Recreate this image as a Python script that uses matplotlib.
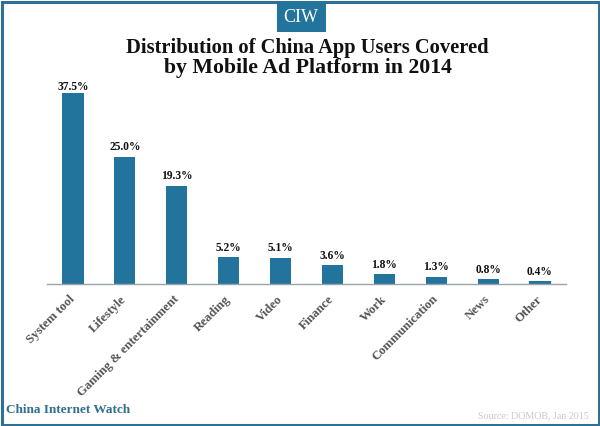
#!/usr/bin/env python3
"""China app users by mobile ad platform, 2014 - CIW bar chart."""
import matplotlib
matplotlib.use("Agg")
import matplotlib.pyplot as plt
from matplotlib.patches import Rectangle

categories = ["System tool", "Lifestyle", "Gaming & entertainment", "Reading", "Video",
              "Finance", "Work", "Communication", "News", "Other"]
values = [37.5, 25.0, 19.3, 5.2, 5.1, 3.6, 1.8, 1.3, 0.8, 0.4]

W, H = 600, 426
BLUE = "#22749c"
FRAME = "#2f7196"

plt.rcParams["font.family"] = ["Liberation Serif", "DejaVu Serif"]

fig = plt.figure(figsize=(W / 100, H / 100), dpi=100, facecolor="white")
ax = fig.add_axes([47 / W, 1 - 283.5 / H, 519 / W, 195 / H])

ax.bar(range(len(values)), values, width=0.41, color=BLUE, zorder=2)
for i, v in enumerate(values):
    # tallest bar's label sits closer to the bar, it runs into the title otherwise
    pad = 0 if i == 0 else 2.5
    ax.annotate(f"{v:.1f}%", (i, v), xytext=(0, pad), textcoords="offset points",
                ha="center", va="bottom", fontsize=8.3, fontweight="bold", color="#111111")

ax.set_xlim(-0.5, 9.5)
ax.set_ylim(0, 195 / 5.07)
ax.set_yticks([])
ax.set_xticks(range(len(categories)))
ax.set_xticklabels(categories, rotation=45, ha="right", va="center", rotation_mode="anchor",
                   fontsize=9.2, fontweight="bold", color="#555555")
ax.tick_params(axis="x", length=0, pad=10)
for spine in ("top", "right", "left"):
    ax.spines[spine].set_visible(False)
ax.spines["bottom"].set_color("#9aa3a8")
ax.spines["bottom"].set_linewidth(1)
ax.patch.set_alpha(0)

# outer frame and logo tab
fig.add_artist(Rectangle((1.5 / W, 1.5 / H), (W - 3) / W, (H - 3) / H, transform=fig.transFigure,
                         fill=False, edgecolor=FRAME, linewidth=2.2))
fig.add_artist(Rectangle((277 / W, 1 - 32 / H), 49 / W, 30 / H, transform=fig.transFigure,
                         facecolor=BLUE, edgecolor="none"))
fig.text(301 / W, 1 - 17 / H, "CIW", ha="center", va="center", fontsize=13, color="white")

# title
fig.text(307 / W, 1 - 52.5 / H, "Distribution of China App Users Covered",
         ha="center", va="baseline", fontsize=14.8, fontweight="bold", color="#111111")
fig.text(307.5 / W, 1 - 73.5 / H, "by Mobile Ad Platform in 2014",
         ha="center", va="baseline", fontsize=15.7, fontweight="bold", color="#111111")

# footer
fig.text(6 / W, 1 - 410 / H, "China Internet Watch", ha="left", va="center",
         fontsize=9.5, fontweight="bold", color="#2f6f8f")
fig.text(589 / W, 1 - 416 / H, "Source: DOMOB, Jan 2015", ha="right", va="center",
         fontsize=7.2, color="#c9c9c9")

fig.savefig("out.png", dpi=100)
